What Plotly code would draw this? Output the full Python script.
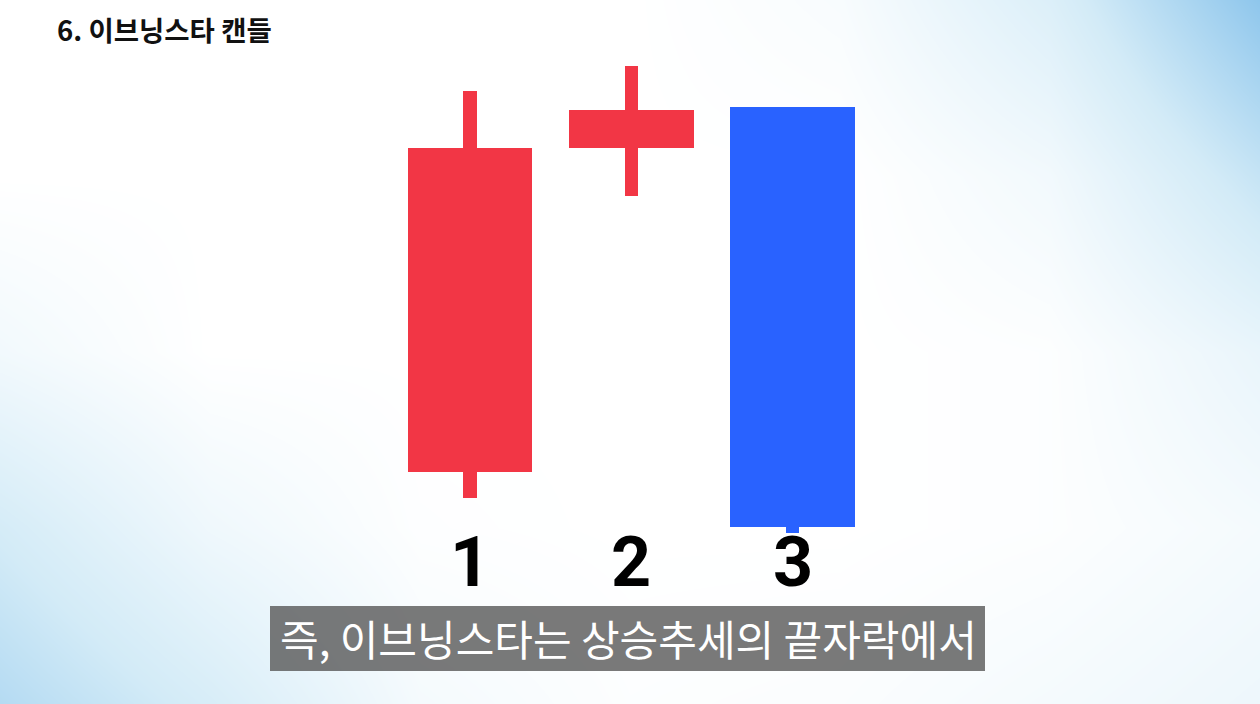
import numpy as np
import plotly.graph_objects as go

# ---- data ----
candle_ids = [1, 2, 3]
candle_labels = ["1", "2", "3"]
opens = [58.0, 139.0, 149.3]
highs = [153.3, 159.5, 149.3]
lows = [51.5, 127.0, 42.8]
closes = [139.0, 148.5, 44.3]

title_text = "6. 이브닝스타 캔들"
caption_text = "즉, 이브닝스타는 상승추세의 끝자락에서"

# background tint intensities (decorative gradient)
bg_x = [0, 1/6, 2/6, 3/6, 4/6, 5/6, 1]
bg_y = [1.0, 0.75, 0.5, 0.25, 0.0]
bg_z = [
    [0.00, 0.00, 0.00, 0.00, 0.08, 0.40, 1.00],
    [0.00, 0.00, 0.00, 0.00, 0.00, 0.15, 0.60],
    [0.15, 0.00, 0.00, 0.00, 0.00, 0.03, 0.25],
    [0.48, 0.18, 0.02, 0.00, 0.00, 0.03, 0.12],
    [0.72, 0.45, 0.12, 0.03, 0.05, 0.12, 0.20],
]

UP = "#F23645"
DOWN = "#2962FF"

o = np.array(opens); h = np.array(highs); l = np.array(lows); c = np.array(closes)
colors = [UP if ci >= oi else DOWN for oi, ci in zip(o, c)]

fig = go.Figure()

fig.add_trace(go.Heatmap(
    x=bg_x, y=bg_y, z=bg_z, zmin=0, zmax=1, zsmooth="best",
    colorscale=[[0, "#ffffff"], [0.5, "#d3ebf7"], [1, "#8ec6ec"]],
    showscale=False, hoverinfo="skip", xaxis="x", yaxis="y",
))

# wicks
fig.add_trace(go.Bar(
    x=candle_ids, base=l, y=h - l, width=0.081,
    marker=dict(color=colors, line=dict(width=0)),
    xaxis="x2", yaxis="y2", hoverinfo="skip", showlegend=False,
))
# bodies
fig.add_trace(go.Bar(
    x=candle_ids, base=np.minimum(o, c), y=np.abs(c - o), width=0.772,
    marker=dict(color=colors, line=dict(width=0)),
    xaxis="x2", yaxis="y2", hoverinfo="skip", showlegend=False,
))

annotations = [
    dict(text=title_text, xref="paper", yref="paper", x=55 / 1260, y=1 - 29 / 704,
         xanchor="left", yanchor="middle", showarrow=False,
         font=dict(family="Noto Sans CJK KR", size=27.5, color="#111111", weight=700)),
    dict(text=caption_text, xref="paper", yref="paper", x=628 / 1260, y=1 - 637 / 704,
         xanchor="center", yanchor="middle", showarrow=False,
         font=dict(family="Noto Sans CJK KR", size=42, color="#ffffff", weight=400)),
]
for cid, lab in zip(candle_ids, candle_labels):
    annotations.append(dict(
        text=lab, x=cid, y=35.5, xref="x2", yref="y2", showarrow=False,
        xanchor="center", yanchor="middle",
        font=dict(family="Roboto", size=70, color="#000000", weight=700),
    ))

fig.update_layout(
    width=1260, height=704,
    margin=dict(l=0, r=0, t=0, b=0),
    paper_bgcolor="#ffffff", plot_bgcolor="rgba(0,0,0,0)",
    showlegend=False, barmode="overlay", bargap=0,
    xaxis=dict(range=[0, 1], visible=False, fixedrange=True),
    yaxis=dict(range=[0, 1], visible=False, fixedrange=True),
    xaxis2=dict(range=[-1.9147, 5.899], overlaying="x", visible=False, fixedrange=True),
    yaxis2=dict(range=[0, 176], overlaying="y", visible=False, fixedrange=True),
    shapes=[dict(type="rect", xref="paper", yref="paper",
                 x0=270 / 1260, x1=985 / 1260, y0=1 - 671 / 704, y1=1 - 606 / 704,
                 fillcolor="rgba(88,88,88,0.8)", line=dict(width=0), layer="above")],
    annotations=annotations,
)

fig.write_html("out.html", config={"displayModeBar": False})
